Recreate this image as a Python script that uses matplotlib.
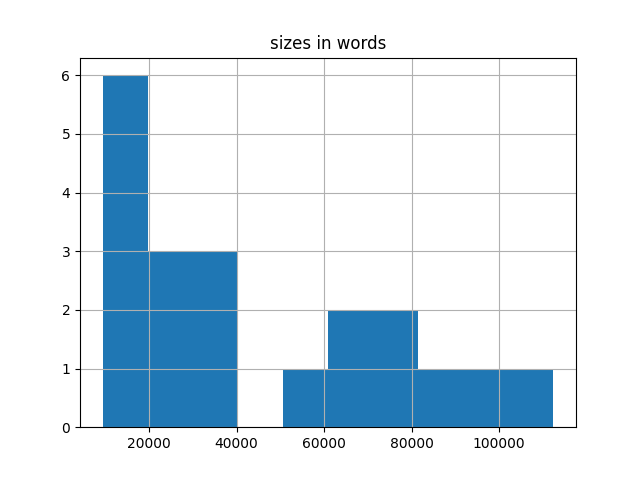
import matplotlib
matplotlib.use("Agg")
import matplotlib.pyplot as plt

# document sizes in words (estimated from the histogram)
sizes = [9336, 11500, 13200, 15800, 17400, 19100,
         22400, 25600, 28700,
         31500, 35200, 38900,
         54300,
         63800, 68200,
         74100, 78600,
         86400,
         96700,
         112450]

fig, ax = plt.subplots(figsize=(6.4, 4.8), dpi=100)
ax.hist(sizes, bins=10, color='#1f77b4')
ax.grid(True)
ax.set_title('sizes in words')

plt.savefig('out.png')
